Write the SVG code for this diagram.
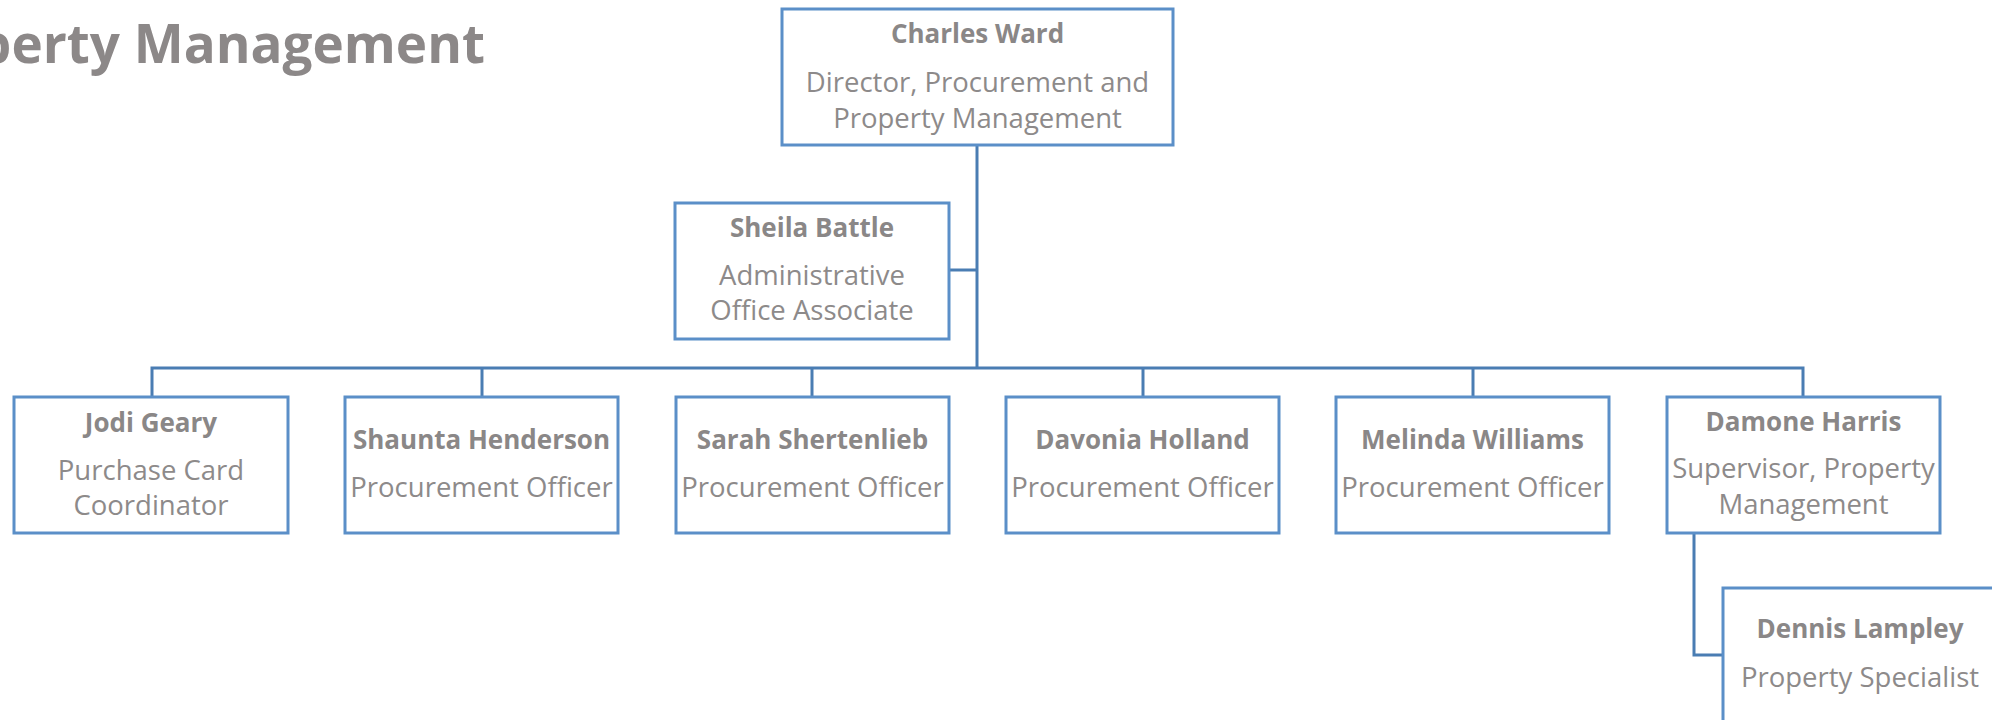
<svg xmlns="http://www.w3.org/2000/svg" width="1992" height="720" viewBox="0 0 1992 720">
<style>
.box{fill:#ffffff;stroke:#5b8fc8;stroke-width:3}
.conn{fill:none;stroke:#4a7db3;stroke-width:3}
.nm{font-family:"Open Sans","Noto Sans",sans-serif;font-weight:700;font-size:26px;fill:#8a8787;text-anchor:middle}
.tt{font-family:"Open Sans","Noto Sans",sans-serif;font-weight:400;font-size:27.5px;fill:#8d8a8a;text-anchor:middle}
.hd{font-family:"Open Sans","Noto Sans",sans-serif;font-weight:700;font-size:53px;fill:#8c8888;text-anchor:end}
</style>
<rect width="1992" height="720" fill="#ffffff"/>
<text class="hd" x="485" y="63">Property Management</text>
<g id="connectors">
<path class="conn" d="M977,145 V368"/>
<path class="conn" d="M949,270 H977"/>
<path class="conn" d="M152,397 V368 H1803 V397"/>
<path class="conn" d="M482,368 V397"/>
<path class="conn" d="M812,368 V397"/>
<path class="conn" d="M1143,368 V397"/>
<path class="conn" d="M1473,368 V397"/>
<path class="conn" d="M1694,533 V655 H1723"/>
</g>
<g id="charles-ward">
<rect class="box" x="782" y="9" width="391" height="136"/>
<text class="nm" x="977.5" y="43">Charles Ward</text>
<text class="tt" x="977.5" y="92">Director, Procurement and</text>
<text class="tt" x="977.5" y="128">Property Management</text>
</g>
<g id="sheila-battle">
<rect class="box" x="675" y="203" width="274" height="136"/>
<text class="nm" x="812" y="237">Sheila Battle</text>
<text class="tt" x="812" y="285">Administrative</text>
<text class="tt" x="812" y="320">Office Associate</text>
</g>
<g id="jodi-geary">
<rect class="box" x="14" y="397" width="274" height="136"/>
<text class="nm" x="151" y="432">Jodi Geary</text>
<text class="tt" x="151" y="480">Purchase Card</text>
<text class="tt" x="151" y="515">Coordinator</text>
</g>
<g id="shaunta-henderson">
<rect class="box" x="345" y="397" width="273" height="136"/>
<text class="nm" x="481.5" y="449">Shaunta Henderson</text>
<text class="tt" x="481.5" y="497">Procurement Officer</text>
</g>
<g id="sarah-shertenlieb">
<rect class="box" x="676" y="397" width="273" height="136"/>
<text class="nm" x="812.5" y="449">Sarah Shertenlieb</text>
<text class="tt" x="812.5" y="497">Procurement Officer</text>
</g>
<g id="davonia-holland">
<rect class="box" x="1006" y="397" width="273" height="136"/>
<text class="nm" x="1142.5" y="449">Davonia Holland</text>
<text class="tt" x="1142.5" y="497">Procurement Officer</text>
</g>
<g id="melinda-williams">
<rect class="box" x="1336" y="397" width="273" height="136"/>
<text class="nm" x="1472.5" y="449">Melinda Williams</text>
<text class="tt" x="1472.5" y="497">Procurement Officer</text>
</g>
<g id="damone-harris">
<rect class="box" x="1667" y="397" width="273" height="136"/>
<text class="nm" x="1803.5" y="431">Damone Harris</text>
<text class="tt" x="1803.5" y="478">Supervisor, Property</text>
<text class="tt" x="1803.5" y="514">Management</text>
</g>
<g id="dennis-lampley">
<rect class="box" x="1723" y="588" width="273" height="136"/>
<text class="nm" x="1860" y="638">Dennis Lampley</text>
<text class="tt" x="1860" y="687">Property Specialist</text>
</g>
</svg>
